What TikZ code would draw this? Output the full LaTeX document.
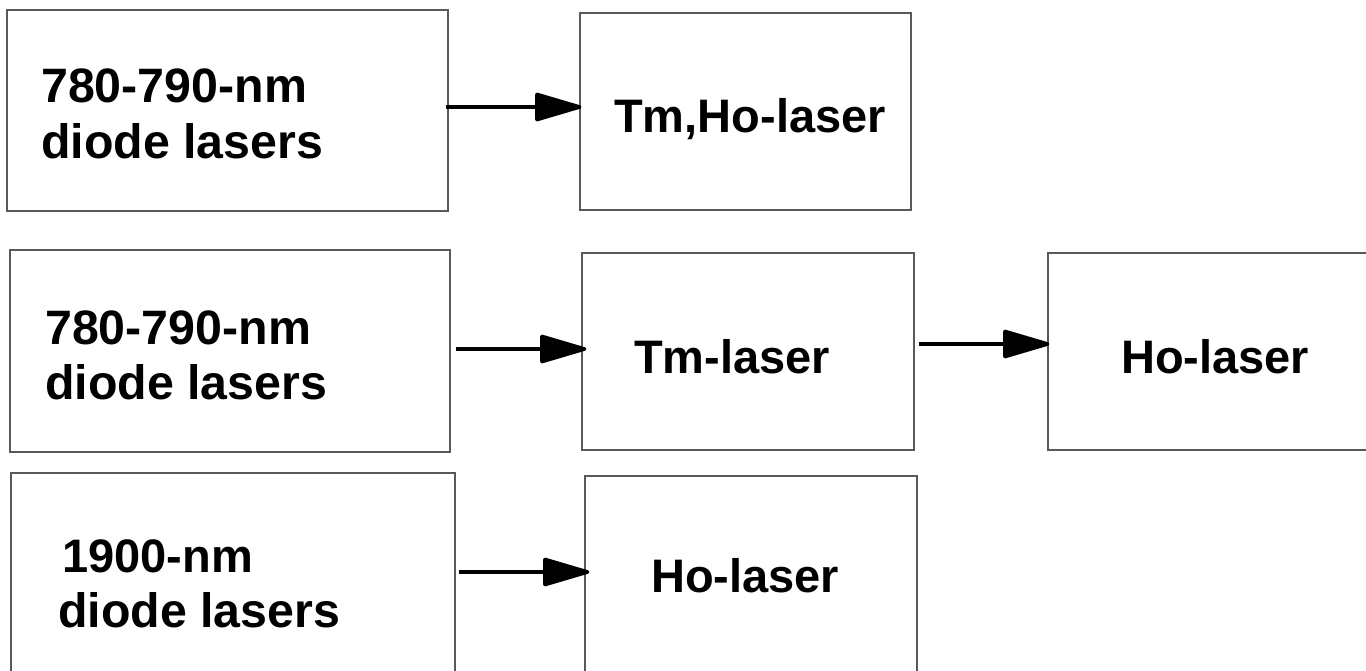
\documentclass[tikz,border=0pt]{standalone}
\usepackage{fontspec}
\setmainfont{Liberation Sans}
\usetikzlibrary{arrows.meta}
\begin{document}
\begin{tikzpicture}[x=1pt,y=-1pt,
  box/.style={draw=black!65,line width=1.2pt},
  lbl/.style={anchor=base west,inner sep=0pt,font=\fontsize{47}{57}\selectfont\bfseries},
  wlbl/.style={lbl,font=\fontsize{48.3}{57}\selectfont\bfseries},
  arr/.style={line width=3.6pt,line join=round,-{Triangle[length=51pt,width=29pt,round]}}]
\useasboundingbox (0,0) rectangle (1366,670);
% boxes
\node[box,minimum width=441pt,minimum height=201pt,inner sep=0pt] (A) at (227.5,110.5) {};
\node[box,minimum width=331pt,minimum height=197pt,inner sep=0pt] (B) at (745.5,111.5) {};
\node[box,minimum width=440pt,minimum height=202pt,inner sep=0pt] (C) at (230,351) {};
\node[box,minimum width=332pt,minimum height=197pt,inner sep=0pt] (D) at (748,351.5) {};
\node[box,minimum width=330pt,minimum height=197pt,inner sep=0pt] (E) at (1213,351.5) {};
\node[box,minimum width=444pt,minimum height=210pt,inner sep=0pt] (F) at (233,578) {};
\node[box,minimum width=332pt,minimum height=207pt,inner sep=0pt] (G) at (751,579.5) {};
% texts
\node[wlbl] (A1) at (41,102) {780-790-nm};
\node[wlbl] (A2) at (41,158) {diode lasers};
\node[lbl] (B1) at (614,132) {Tm,Ho-laser};
\node[wlbl] (C1) at (45,344) {780-790-nm};
\node[wlbl] (C2) at (45,399) {diode lasers};
\node[lbl] (D1) at (634,373) {Tm-laser};
\node[lbl] (E1) at (1121,373) {Ho-laser};
\node[lbl] (F1) at (62,572) {1900-nm};
\node[wlbl] (F2) at (58,627) {diode lasers};
\node[lbl] (G1) at (651,592) {Ho-laser};
% arrows
\draw[arr,shorten <=-3pt,shorten >=-2pt] ([yshift=3.5pt]A.east) -- ([yshift=4.5pt]B.west);
\draw[arr,shorten <=5pt,shorten >=-5pt] ([yshift=2pt]C.east) -- ([yshift=2.5pt]D.west);
\draw[arr,shorten <=4pt,shorten >=-2pt] ([yshift=7.5pt]D.east) -- ([yshift=7.5pt]E.west);
\draw[arr,shorten <=3pt,shorten >=-5pt] ([yshift=6pt]F.east) -- ([yshift=7.5pt]G.west);
\end{tikzpicture}
\end{document}
